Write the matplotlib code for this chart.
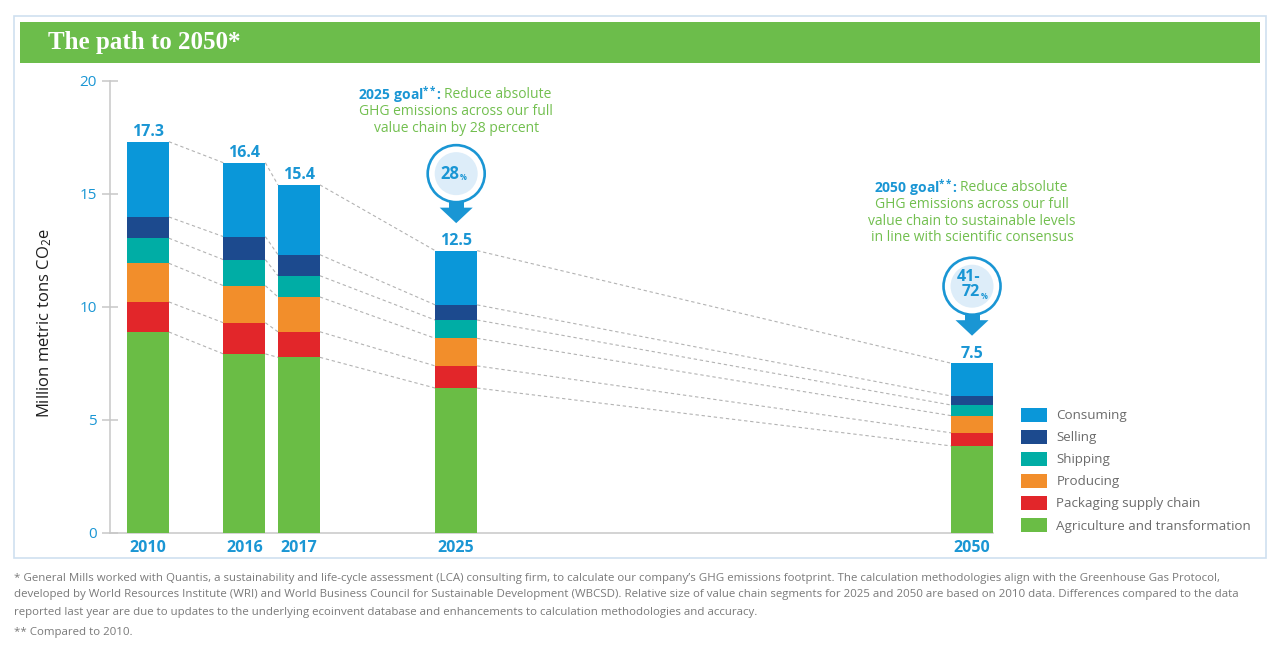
import matplotlib
matplotlib.use("Agg")
import matplotlib.pyplot as plt
from matplotlib import patches, transforms
import numpy as np

# ---------------- data ----------------
years = ["2010", "2016", "2017", "2025", "2050"]
segment_names = ["Agriculture and transformation", "Packaging supply chain",
                 "Producing", "Shipping", "Selling", "Consuming"]
agriculture = [8.88, 7.91, 7.76, 6.40, 3.84]
packaging = [1.33, 1.38, 1.13, 0.98, 0.58]
producing = [1.71, 1.64, 1.54, 1.22, 0.76]
shipping = [1.11, 1.15, 0.94, 0.81, 0.47]
selling = [0.94, 1.02, 0.93, 0.67, 0.40]
consuming = [3.33, 3.27, 3.09, 2.40, 1.45]
y_ticks = [0, 5, 10, 15, 20]

goal_years = ["2025", "2050"]
goal_pct = [["28"], ["41-", "72"]]
goal_heads = ["2025 goal", "2050 goal"]
goal_first = ["Reduce absolute", "Reduce absolute"]
goal_rest = [["GHG emissions across our full", "value chain by 28 percent"],
             ["GHG emissions across our full", "value chain to sustainable levels",
              "in line with scientific consensus"]]

title = "The path to 2050*"
ylabel = "Million metric tons CO$_2$e"
footnotes = [
    "* General Mills worked with Quantis, a sustainability and life-cycle assessment (LCA) consulting firm, to calculate our company\u2019s GHG emissions footprint. The calculation methodologies align with the Greenhouse Gas Protocol,",
    "developed by World Resources Institute (WRI) and World Business Council for Sustainable Development (WBCSD). Relative size of value chain segments for 2025 and 2050 are based on 2010 data. Differences compared to the data",
    "reported last year are due to updates to the underlying ecoinvent database and enhancements to calculation methodologies and accuracy.",
    "** Compared to 2010.",
]

# ---------------- style ----------------
colors = ["#6abd45", "#e2262a", "#f28e2b", "#00ada5", "#1c4a8e", "#0a97d9"]
BLUE = "#1a96d4"
GREEN_TXT = "#72bf4f"
GRAY_AX = "#c8c8c8"

plt.rcParams["font.family"] = ["Open Sans", "DejaVu Sans"]
plt.rcParams["mathtext.fontset"] = "custom"
plt.rcParams["mathtext.rm"] = "Open Sans"
plt.rcParams["mathtext.bf"] = "Open Sans:bold"
plt.rcParams["mathtext.it"] = "Open Sans:italic"

W, H, DPI = 1280, 649, 100
fig = plt.figure(figsize=(W / DPI, H / DPI), dpi=DPI)
fig.patch.set_facecolor("white")


def fx(px):
    return px / W


def fy(py):
    return 1 - py / H


# frame and title banner
fig.add_artist(patches.Rectangle((fx(14), fy(558)), fx(1266) - fx(14), fy(16) - fy(558),
                                 transform=fig.transFigure, fill=False,
                                 edgecolor="#cfe0f0", linewidth=1.2))
fig.add_artist(patches.Rectangle((fx(20), fy(62.5)), fx(1260) - fx(20), fy(22) - fy(62.5),
                                 transform=fig.transFigure, facecolor="#6cbd4b",
                                 edgecolor="none"))
fig.text(fx(48), fy(43), title, color="white", fontsize=18, fontweight="bold",
         family=["Liberation Serif", "DejaVu Serif"], va="center", ha="left")

# axes
ax = fig.add_axes([fx(110), fy(532.7), (993 - 110) / W, (532.7 - 80.7) / H])
x_pos = np.array([0, 2.3, 3.6, 7.35, 19.65])
bar_w = 1.0
ax.set_xlim(-0.905, 20.15)
ax.set_ylim(0, 20)

series = [agriculture, packaging, producing, shipping, selling, consuming]
bottom = np.zeros(len(years))
levels = []
for name, vals, c in zip(segment_names, series, colors):
    ax.bar(x_pos, vals, bar_w, bottom=bottom, color=c, label=name,
           zorder=3, linewidth=0)
    bottom = bottom + np.array(vals)
    levels.append(bottom.copy())
totals = bottom

# dashed connectors
for i in range(len(years) - 1):
    for lv in levels:
        ax.plot([x_pos[i] + bar_w / 2, x_pos[i + 1] - bar_w / 2], [lv[i], lv[i + 1]],
                ls=(0, (3, 2.5)), color="#b3b3b3", lw=0.8, zorder=2)

# total labels
for x, t in zip(x_pos, totals):
    ax.annotate(f"{t:.1f}", xy=(x, t), xytext=(0, 4), textcoords="offset points",
                ha="center", va="baseline", color=BLUE, fontsize=11.5, fontweight="bold")

# spines / ticks
for s in ["top", "right"]:
    ax.spines[s].set_visible(False)
for s in ["left", "bottom"]:
    ax.spines[s].set_color(GRAY_AX)
    ax.spines[s].set_linewidth(1.1)
ax.set_yticks(y_ticks)
ax.set_yticklabels([str(v) for v in y_ticks])
ax.tick_params(axis="y", direction="inout", length=11.5, width=1.1, color=GRAY_AX,
               labelcolor=BLUE, labelsize=11, pad=3.6)
ax.set_xticks(x_pos)
ax.set_xticklabels(years)
ax.tick_params(axis="x", length=0, pad=5, labelcolor=BLUE, labelsize=11.5)
for lbl in ax.get_xticklabels():
    lbl.set_fontweight("bold")
ax.set_facecolor("none")
fig.text(fx(45), fy(323), ylabel, rotation=90, ha="center", va="center",
         fontsize=12, color="#1e1e1e")

# goal pins
for gi, gy in enumerate(goal_years):
    i = years.index(gy)
    x, t = x_pos[i], totals[i]
    tr = transforms.Affine2D().scale(fig.dpi / 100) + \
        transforms.ScaledTranslation(x, t, ax.transData)
    cy = 77
    fig.add_artist(patches.Polygon([(-16.5, 43), (16.5, 43), (0, 27.5)], closed=True,
                                   transform=tr, facecolor=BLUE, edgecolor="none"))
    fig.add_artist(patches.Rectangle((-7.5, 40), 15, 12, transform=tr,
                                     facecolor=BLUE, edgecolor="none"))
    fig.add_artist(patches.Circle((0, cy), 28.5, transform=tr, facecolor="white",
                                  edgecolor=BLUE, linewidth=1.9))
    fig.add_artist(patches.Circle((0, cy), 21.5, transform=tr, facecolor="#ddedf9",
                                  edgecolor="none"))
    pct = goal_pct[gi]
    if len(pct) == 1:
        fig.text(3, cy, pct[0], transform=tr, ha="right", va="center",
                 color=BLUE, fontsize=12, fontweight="bold")
        fig.text(4, cy - 4, "%", transform=tr, ha="left", va="center",
                 color=BLUE, fontsize=5.5, fontweight="bold")
    else:
        fig.text(-3, cy + 9, pct[0], transform=tr, ha="center", va="center",
                 color=BLUE, fontsize=11.5, fontweight="bold")
        fig.text(8, cy - 6, pct[1], transform=tr, ha="right", va="center",
                 color=BLUE, fontsize=11.5, fontweight="bold")
        fig.text(9, cy - 10, "%", transform=tr, ha="left", va="center",
                 color=BLUE, fontsize=5.5, fontweight="bold")

    # goal text
    base = [122.5, 125.5][gi]
    step = 16.7
    rest = goal_rest[gi]
    y_first = base + step * len(rest)
    head = r"$\mathbf{" + goal_heads[gi].replace(" ", r"\ ") + r"}^{\mathbf{**}}$"
    fig.text(-19.5, y_first, head, transform=tr, ha="right", va="center",
             color=BLUE, fontsize=10)
    fig.text(-20, y_first, ":", transform=tr, ha="left", va="center",
             color=BLUE, fontsize=10, fontweight="bold")
    fig.text(-12.5, y_first, goal_first[gi], transform=tr, ha="left", va="center",
             color=GREEN_TXT, fontsize=10)
    for k, line in enumerate(rest):
        fig.text(0, y_first - step * (k + 1), line, transform=tr, ha="center",
                 va="center", color=GREEN_TXT, fontsize=10)

# legend
handles, labels = ax.get_legend_handles_labels()
leg = fig.legend(handles[::-1], labels[::-1], loc="upper left",
                 bbox_to_anchor=(fx(1021), fy(407.5)), frameon=False, fontsize=9.6,
                 handlelength=1.95, handleheight=1.27, handletextpad=0.7,
                 labelspacing=0.56, borderpad=0, borderaxespad=0)
for txt in leg.get_texts():
    txt.set_color("#6b6b6b")

# footnotes
for k, line in enumerate(footnotes):
    yy = [578, 595, 612, 632][k]
    fig.text(fx(14), fy(yy), line, ha="left", va="center", fontsize=8.25, color="#7a7a7a")

fig.savefig("out.png", dpi=DPI, facecolor="white")
